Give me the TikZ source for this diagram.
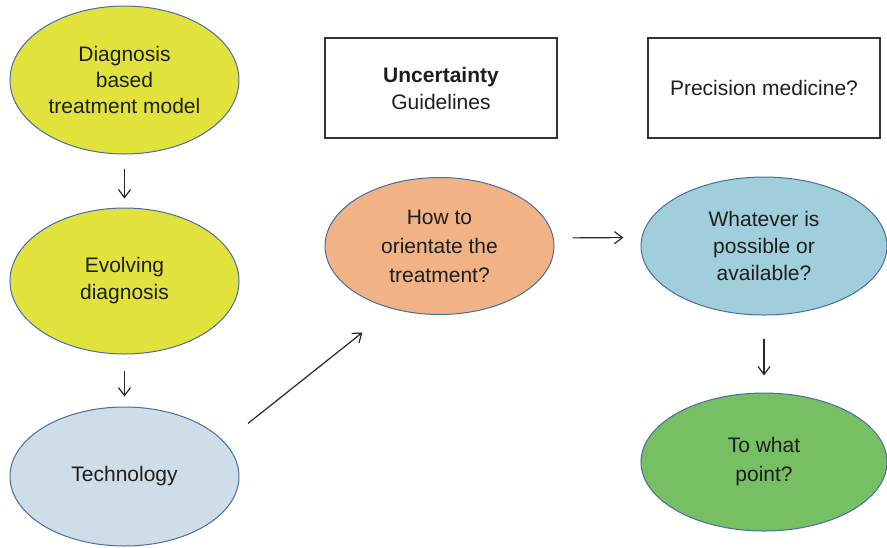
\documentclass[tikz,border=0pt]{standalone}
\usepackage{fontspec}
\setmainfont{Liberation Sans}
\usepackage{tikz}
\usetikzlibrary{arrows,shapes}
\usetikzlibrary{arrows.meta}
\definecolor{diagyellow}{RGB}{226,226,60}
\definecolor{techblue}{RGB}{206,221,232}
\definecolor{orientorange}{RGB}{241,179,134}
\definecolor{possibleblue}{RGB}{160,206,219}
\definecolor{pointgreen}{RGB}{118,191,98}
\definecolor{edgeblue}{RGB}{70,110,165}
\definecolor{textgray}{RGB}{30,30,30}

\begin{document}
\begin{tikzpicture}[
    x=0.5pt, y=-0.5pt,
    every node/.style={font=\fontsize{10.5}{13.5}\selectfont, text=textgray},
    ellipse style/.style={ellipse, draw=edgeblue, line width=0.5pt, inner sep=0pt, minimum width=114.5pt, minimum height=69pt, align=center},
    box style/.style={rectangle, draw=black!80, line width=0.6pt, minimum width=116pt, minimum height=50pt, align=center},
    arrow style/.style={-{Straight Barb[length=4pt,width=6pt]}, line width=0.6pt, draw=black!85}
]
\useasboundingbox (0,0) rectangle (887,547);
% left column
\node[ellipse style, fill=diagyellow, minimum height=74pt, font=\fontsize{10.5}{12.8}\selectfont] (diag) at (124.5,80) {Diagnosis\\based\\treatment model};
\node[ellipse style, fill=diagyellow, minimum height=73pt] (evolve) at (124.5,281) {Evolving\\diagnosis};
\node[ellipse style, fill=techblue, minimum height=69.5pt] (tech) at (124.5,476.5) {Technology};
% middle and right
\node[box style] (uncert) at (441,88) {\textbf{Uncertainty}\\Guidelines};
\node[box style] (precis) at (764,88) {Precision medicine?};
\node[ellipse style, fill=orientorange, minimum height=68.5pt, font=\fontsize{10.5}{14.5}\selectfont] (orient) at (439.5,246) {How to\\orientate the\\treatment?};
\node[ellipse style, fill=possibleblue, minimum width=123pt] (possible) at (764,246) {Whatever is\\possible or\\available?};
\node[ellipse style, fill=pointgreen, minimum width=123pt, font=\fontsize{10.5}{14.5}\selectfont] (point) at (764,462) {To what\\point?};

\draw[arrow style, shorten <=7pt, shorten >=4.5pt] (diag) -- (evolve);
\draw[arrow style, shorten <=8pt, shorten >=5pt] (evolve) -- (tech);
\draw[arrow style, shorten <=15pt, shorten >=19pt] (tech.19) -- (orient.233);
\draw[arrow style, shorten <=9.5pt, shorten >=9pt] (orient.4) -- (possible.176);
\draw[arrow style, shorten <=11.5pt, shorten >=8.5pt] (possible) -- (point);
\end{tikzpicture}
\end{document}
